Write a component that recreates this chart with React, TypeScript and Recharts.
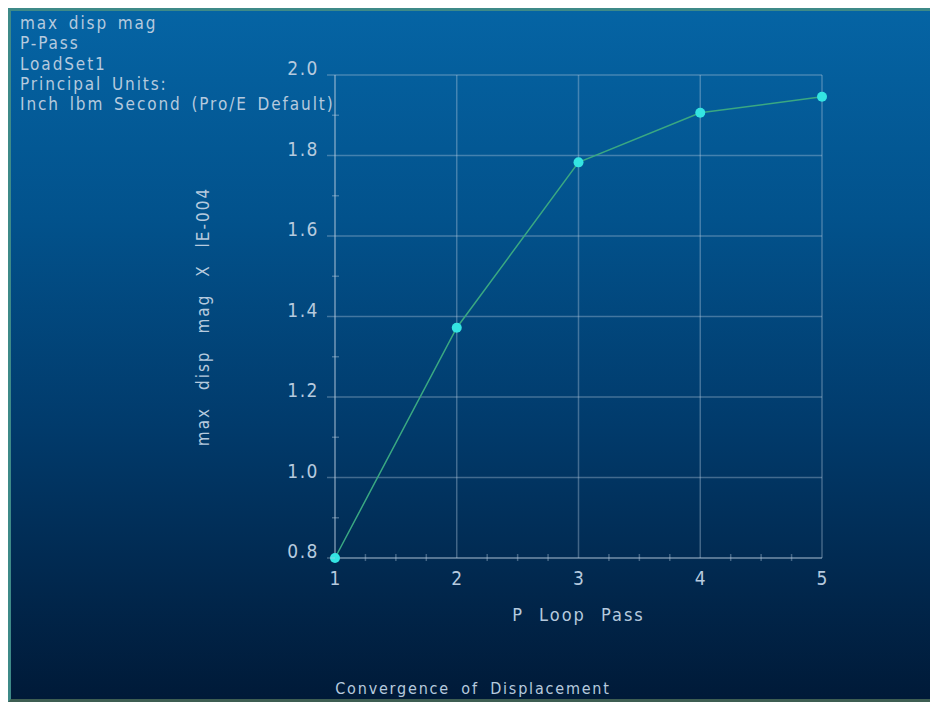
import { LineChart, Line, XAxis, YAxis, ReferenceLine } from "recharts";

const passes = [1, 2, 3, 4, 5];
const dispMag = [0.8, 1.372, 1.783, 1.906, 1.946];

const xMajor = [1, 2, 3, 4, 5];
const xTicks = [1, 1.25, 1.5, 1.75, 2, 2.25, 2.5, 2.75, 3, 3.25, 3.5, 3.75, 4, 4.25, 4.5, 4.75, 5];
const yMajor = [0.8, 1.0, 1.2, 1.4, 1.6, 1.8, 2.0];
const yTicks = [0.8, 0.9, 1.0, 1.1, 1.2, 1.3, 1.4, 1.5, 1.6, 1.7, 1.8, 1.9, 2.0];
const yLabels = ["0.8", "1.0", "1.2", "1.4", "1.6", "1.8", "2.0"];

const headerLines = [
  "max disp mag",
  "P-Pass",
  "LoadSet1",
  "Principal Units:",
  "Inch lbm Second (Pro/E Default)",
];

const chartData = passes.map((p, i) => ({ pass: p, mag: dispMag[i] }));

const FONT = "'DejaVu Sans Condensed', 'DejaVu Sans', sans-serif";
const TEXT = "#b6cade";
const GRID = "rgba(185,205,225,0.36)";

function isMajor(v: number, list: number[]) {
  return list.some((m) => Math.abs(m - v) < 1e-6);
}

function XTick({ x, y, payload }: any) {
  const v = payload.value as number;
  if (isMajor(v, xMajor)) {
    return (
      <text x={x} y={y + 27} textAnchor="middle" fill={TEXT} fontSize={19} fontFamily={FONT}>
        {v}
      </text>
    );
  }
  return <line x1={x} x2={x} y1={y - 4} y2={y + 3} stroke={GRID} strokeWidth={1.5} />;
}

function YTick({ x, y, payload }: any) {
  const v = payload.value as number;
  const idx = yMajor.findIndex((m) => Math.abs(m - v) < 1e-6);
  if (idx >= 0) {
    return (
      <g>
        <line x1={x - 8} x2={x} y1={y} y2={y} stroke={GRID} strokeWidth={1.5} />
        <text x={x - 16} y={y} textAnchor="end" fill={TEXT} fontSize={19} fontFamily={FONT} letterSpacing={1.5}>
          {yLabels[idx]}
        </text>
      </g>
    );
  }
  return <line x1={x - 3} x2={x + 4} y1={y} y2={y} stroke={GRID} strokeWidth={1.5} />;
}

export default function App() {
  return (
    <div
      style={{
        position: "relative",
        width: 924,
        height: 688,
        border: "3px solid #3e8a88",
        borderBottomColor: "#3e5e52",
        borderRightColor: "#2f6c80",
        background: "linear-gradient(180deg, #0564a4 0%, #02528c 30%, #013b6c 60%, #01264b 85%, #001a38 100%)",
        fontFamily: FONT,
        overflow: "hidden",
      }}
    >
      <div
        style={{
          position: "absolute",
          left: 9,
          top: 2,
          color: TEXT,
          fontSize: 17,
          lineHeight: "20.3px",
          letterSpacing: 1.9,
          wordSpacing: 3,
        }}
      >
        {headerLines.map((l) => (
          <div key={l} style={{ whiteSpace: "pre" }}>{l}</div>
        ))}
      </div>
      <LineChart width={924} height={688} data={chartData} margin={{ top: 64, right: 113, bottom: 0, left: 0 }}>
        {xMajor.map((v) => (
          <ReferenceLine key={"vx" + v} x={v} stroke={GRID} strokeWidth={1.5} />
        ))}
        {yMajor.map((v) => (
          <ReferenceLine key={"hy" + v} y={v} stroke={GRID} strokeWidth={1.5} />
        ))}
        <XAxis
          dataKey="pass"
          type="number"
          domain={[1, 5]}
          ticks={xTicks}
          interval={0}
          height={141}
          tickSize={0}
          tickMargin={0}
          tickLine={false}
          axisLine={{ stroke: GRID, strokeWidth: 1.5 }}
          tick={<XTick />}
          label={{
            value: "P Loop Pass",
            position: "insideTop",
            offset: 50,
            style: { fill: TEXT, fontSize: 18, fontFamily: FONT, letterSpacing: 2, wordSpacing: 8 },
          }}
        />
        <YAxis
          type="number"
          domain={[0.8, 2.0]}
          ticks={yTicks}
          interval={0}
          width={324}
          tickSize={0}
          tickMargin={0}
          tickLine={false}
          axisLine={{ stroke: GRID, strokeWidth: 1.5 }}
          tick={<YTick />}
          label={{
            value: "max disp mag X lE-004",
            angle: -90,
            position: "insideRight",
            offset: 132,
            style: { fill: TEXT, fontSize: 17, fontFamily: FONT, textAnchor: "middle", letterSpacing: 2, wordSpacing: 10 },
          }}
        />
        <Line
          type="linear"
          dataKey="mag"
          stroke="#3aa882"
          strokeWidth={1.5}
          dot={{ r: 5, fill: "#34e4e2", stroke: "none" }}
          isAnimationActive={false}
        />
      </LineChart>
      <div
        style={{
          position: "absolute",
          left: 0,
          width: 924,
          top: 668,
          textAlign: "center",
          color: TEXT,
          fontSize: 16,
          letterSpacing: 1.8,
          wordSpacing: 5,
        }}
      >
        Convergence of Displacement
      </div>
    </div>
  );
}
